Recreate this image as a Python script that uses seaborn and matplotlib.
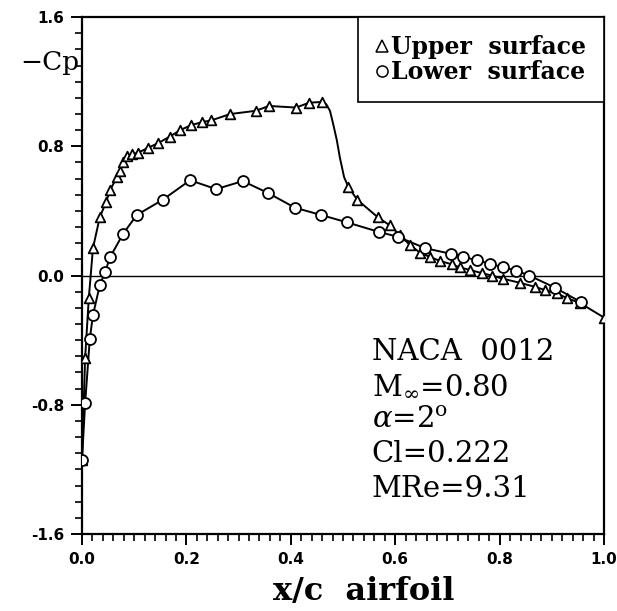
import numpy as np
import pandas as pd
import matplotlib
matplotlib.use("Agg")
import matplotlib.pyplot as plt
from matplotlib.lines import Line2D
from matplotlib.ticker import MultipleLocator
import seaborn as sns

# ---- data ----
upper_x = [0.0, 0.006, 0.013, 0.021, 0.034, 0.046, 0.054, 0.067, 0.073, 0.079, 0.086, 0.096,
           0.107, 0.126, 0.146, 0.168, 0.188, 0.208, 0.230, 0.247, 0.284, 0.333, 0.358, 0.410,
           0.435, 0.460, 0.510, 0.527, 0.567, 0.590, 0.609, 0.628, 0.648, 0.667, 0.686, 0.708,
           0.724, 0.743, 0.766, 0.785, 0.807, 0.839, 0.868, 0.887, 0.910, 0.929, 0.954, 1.0]
upper_cp = [-1.14, -0.51, -0.14, 0.17, 0.36, 0.455, 0.53, 0.61, 0.65, 0.70, 0.74, 0.75,
            0.76, 0.79, 0.82, 0.86, 0.90, 0.93, 0.95, 0.96, 1.00, 1.02, 1.05, 1.04,
            1.07, 1.075, 0.55, 0.47, 0.36, 0.31, 0.25, 0.19, 0.14, 0.115, 0.09, 0.07,
            0.05, 0.035, 0.015, 0.00, -0.02, -0.045, -0.07, -0.09, -0.11, -0.14, -0.17, -0.26]
# shock segment of the upper-surface curve (line only)
shock_x = [0.460, 0.468, 0.475, 0.481, 0.488, 0.494, 0.502, 0.510]
shock_cp = [1.075, 1.06, 1.02, 0.94, 0.84, 0.73, 0.61, 0.55]

lower_x = [0.0, 0.006, 0.015, 0.021, 0.034, 0.044, 0.054, 0.079, 0.105, 0.155, 0.207, 0.257,
           0.308, 0.357, 0.408, 0.458, 0.507, 0.569, 0.605, 0.657, 0.706, 0.730, 0.757, 0.782,
           0.806, 0.832, 0.857, 0.906, 0.956]
lower_cp = [-1.14, -0.79, -0.39, -0.245, -0.06, 0.02, 0.115, 0.26, 0.375, 0.47, 0.59, 0.535,
            0.585, 0.51, 0.42, 0.375, 0.33, 0.27, 0.24, 0.17, 0.135, 0.115, 0.095, 0.072,
            0.052, 0.03, 0.0, -0.075, -0.165]

x_ticks = [0.0, 0.2, 0.4, 0.6, 0.8, 1.0]
y_ticks = [-1.6, -0.8, 0.0, 0.8, 1.6]
legend_labels = ["Upper  surface", "Lower  surface"]
info_lines = ["NACA  0012", r"M$_\infty$=0.80", r"$\alpha$=2$^{\rm o}$", "Cl=0.222", "MRe=9.31"]

sns.set_style("ticks")
plt.rcParams["mathtext.fontset"] = "dejavuserif"
plt.rcParams["font.family"] = ["DejaVu Sans"]
plt.rcParams["text.color"] = "black"
plt.rcParams["xtick.color"] = "black"
plt.rcParams["ytick.color"] = "black"
plt.rcParams["xtick.labelcolor"] = "black"
plt.rcParams["ytick.labelcolor"] = "black"

fig = plt.figure(figsize=(6.17, 6.11), dpi=100)
ax = fig.add_axes([0.1329, 0.126, 0.8461, 0.846])

upper = pd.DataFrame({"x": upper_x, "cp": upper_cp})
lower = pd.DataFrame({"x": lower_x, "cp": lower_cp})
shock = pd.DataFrame({"x": shock_x, "cp": shock_cp})

ax.axhline(0.0, color="black", lw=1.0, zorder=1)

# lines
up_line = pd.concat([upper[upper.x <= 0.46], shock.iloc[1:-1], upper[upper.x >= 0.51]])
sns.lineplot(data=up_line, x="x", y="cp", sort=False, color="black", lw=1.4, ax=ax,
             estimator=None)
sns.lineplot(data=lower, x="x", y="cp", sort=False, color="black", lw=1.4, ax=ax,
             estimator=None)
# markers
sns.scatterplot(data=upper, x="x", y="cp", marker="^", s=48, facecolor="white",
                edgecolor="black", linewidth=1.3, ax=ax, zorder=3)
sns.scatterplot(data=lower, x="x", y="cp", marker="o", s=62, facecolor="white",
                edgecolor="black", linewidth=1.3, ax=ax, zorder=3)

ax.set_xlim(0, 1.0)
ax.set_ylim(-1.6, 1.6)
ax.set_xticks(x_ticks)
ax.set_yticks(y_ticks)
ax.set_xticklabels([f"{v:.1f}" for v in x_ticks], fontweight="bold", fontsize=11)
ax.set_yticklabels([f"{v:.1f}" for v in y_ticks], fontweight="bold", fontsize=11)
ax.xaxis.set_minor_locator(MultipleLocator(0.02))
ax.yaxis.set_minor_locator(MultipleLocator(0.1))
ax.tick_params(which="major", direction="out", length=8, width=1.4, color="black", pad=5)
ax.tick_params(which="minor", direction="out", length=5, width=1.2, color="black")
for s in ax.spines.values():
    s.set_visible(True)
    s.set_linewidth(1.6)
    s.set_color("black")
ax.set_xlabel("")
ax.set_ylabel("")

fig.text(0.033, 0.898, "\u2212Cp", fontsize=19, family="DejaVu Serif", ha="left", va="center")
fig.text(0.59, 0.018, "x/c  airfoil", fontsize=23, family="DejaVu Serif", fontweight="bold",
         ha="center", va="baseline")

handles = [Line2D([], [], ls="none", marker="^", ms=8, mfc="white", mec="black", mew=1.1),
           Line2D([], [], ls="none", marker="o", ms=8, mfc="white", mec="black", mew=1.1)]
leg = ax.legend(handles, legend_labels, loc="upper right", borderaxespad=0.0,
                frameon=True, fancybox=False, edgecolor="black", framealpha=1,
                handlelength=0.5, handletextpad=0.15, borderpad=0.75, labelspacing=0.05,
                prop={"family": "DejaVu Serif", "size": 17, "weight": "bold"})
leg.get_frame().set_linewidth(1.2)

y0 = 0.352
for i, t in enumerate(info_lines):
    ax.text(0.555, y0 - i * 0.066, t, transform=ax.transAxes, fontsize=21,
            family="DejaVu Serif", ha="left", va="center")

fig.savefig("out.png", dpi=100)
